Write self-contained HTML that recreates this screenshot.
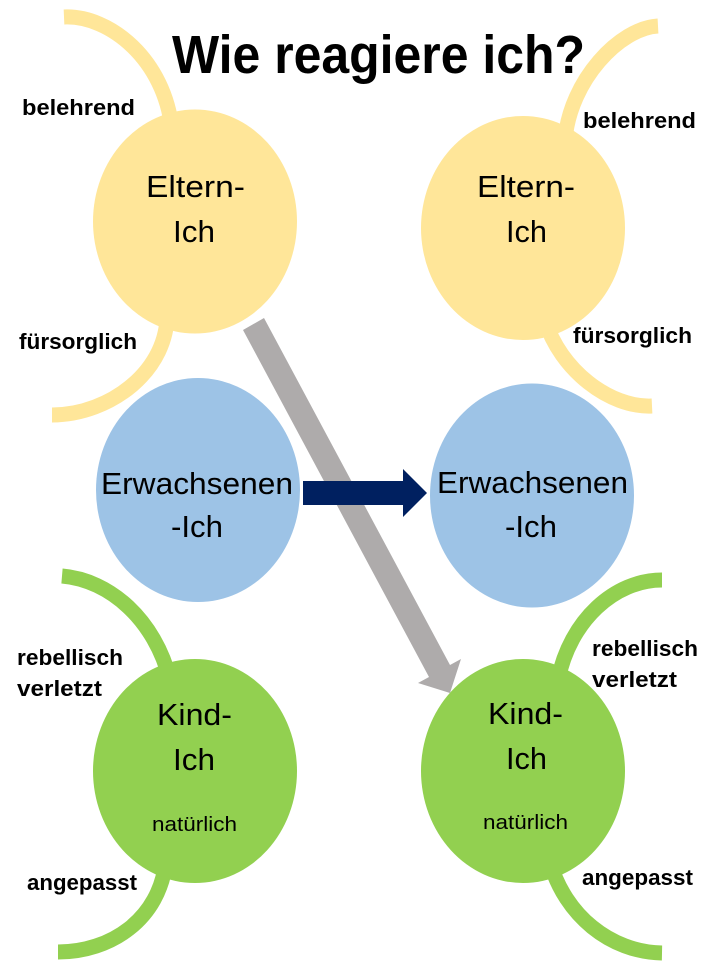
<!DOCTYPE html>
<html>
<head>
<meta charset="utf-8">
<style>
  html, body { margin: 0; padding: 0; background: #ffffff; }
  svg { display: block; }
  .t { font-family: "Liberation Sans", Arial, sans-serif; }
</style>
</head>
<body>
<svg width="723" height="963" viewBox="0 0 723 963" xmlns="http://www.w3.org/2000/svg">
  <rect x="0" y="0" width="723" height="963" fill="#ffffff"/>

  <!-- yellow bands -->
  <g fill="none" stroke="#FFE699" stroke-width="15" stroke-linecap="butt">
    <path d="M 64 17 C 110 15, 165 60, 172 130"/>
    <path d="M 167 310 C 170 370, 110 415, 52 415"/>
    <path d="M 565 140 C 570 80, 620 28, 658 26"/>
    <path d="M 545 320 C 560 370, 610 408, 652 406"/>
  </g>
  <!-- green bands -->
  <g fill="none" stroke="#92D050" stroke-width="15" stroke-linecap="butt">
    <path d="M 170 680 C 155 620, 110 580, 62 576"/>
    <path d="M 166 860 C 160 920, 110 952, 58 952"/>
    <path d="M 558 680 C 570 620, 615 580, 662 580"/>
    <path d="M 550 862 C 565 915, 610 952, 662 953"/>
  </g>

  <!-- gray diagonal arrow -->
  <polygon fill="#AEABAB" points="243,330 264,318 450,665 461,659 450,693 418,683 429,677"/>

  <!-- circles -->
  <ellipse cx="195" cy="221.5" rx="102" ry="112" fill="#FFE699"/>
  <ellipse cx="523" cy="228" rx="102" ry="112" fill="#FFE699"/>
  <ellipse cx="198" cy="490" rx="102" ry="112" fill="#9DC3E6"/>
  <ellipse cx="532" cy="495.5" rx="102" ry="112" fill="#9DC3E6"/>
  <ellipse cx="195" cy="771" rx="102" ry="112" fill="#92D050"/>
  <ellipse cx="523" cy="771" rx="102" ry="112" fill="#92D050"/>

  <!-- navy arrow -->
  <polygon fill="#002060" points="303,481 403,481 403,469 427,493 403,517 403,505 303,505"/>

  <!-- title -->
  <text class="t" x="172" y="73" font-size="54" font-weight="bold" fill="#000" textLength="413" lengthAdjust="spacingAndGlyphs">Wie reagiere ich?</text>

  <!-- circle texts -->
  <g class="t" font-size="31" fill="#000" text-anchor="middle">
    <text x="195.5" y="197" textLength="99" lengthAdjust="spacingAndGlyphs">Eltern-</text>
    <text x="194" y="242" textLength="42" lengthAdjust="spacingAndGlyphs">Ich</text>
    <text x="526" y="197" textLength="98" lengthAdjust="spacingAndGlyphs">Eltern-</text>
    <text x="526.5" y="242" textLength="41" lengthAdjust="spacingAndGlyphs">Ich</text>

    <text x="197" y="494" textLength="192" lengthAdjust="spacingAndGlyphs">Erwachsenen</text>
    <text x="197" y="537" textLength="52" lengthAdjust="spacingAndGlyphs">-Ich</text>
    <text x="532.5" y="493" textLength="191" lengthAdjust="spacingAndGlyphs">Erwachsenen</text>
    <text x="531" y="537" textLength="52" lengthAdjust="spacingAndGlyphs">-Ich</text>

    <text x="194.5" y="725" textLength="75" lengthAdjust="spacingAndGlyphs">Kind-</text>
    <text x="194" y="770" textLength="42" lengthAdjust="spacingAndGlyphs">Ich</text>
    <text x="525.5" y="724" textLength="75" lengthAdjust="spacingAndGlyphs">Kind-</text>
    <text x="526.5" y="769" textLength="41" lengthAdjust="spacingAndGlyphs">Ich</text>
  </g>
  <g class="t" font-size="20" fill="#000" text-anchor="middle">
    <text x="194.5" y="831" textLength="85" lengthAdjust="spacingAndGlyphs">natürlich</text>
    <text x="525.5" y="829" textLength="85" lengthAdjust="spacingAndGlyphs">natürlich</text>
  </g>

  <!-- side labels -->
  <g class="t" font-size="22" font-weight="bold" fill="#000">
    <text x="22" y="115" textLength="113" lengthAdjust="spacingAndGlyphs">belehrend</text>
    <text x="19" y="349" textLength="118" lengthAdjust="spacingAndGlyphs">fürsorglich</text>
    <text x="583" y="128" textLength="113" lengthAdjust="spacingAndGlyphs">belehrend</text>
    <text x="573" y="343" textLength="119" lengthAdjust="spacingAndGlyphs">fürsorglich</text>

    <text x="17" y="665" textLength="106" lengthAdjust="spacingAndGlyphs">rebellisch</text>
    <text x="17" y="696" textLength="85" lengthAdjust="spacingAndGlyphs">verletzt</text>
    <text x="27" y="890" textLength="110" lengthAdjust="spacingAndGlyphs">angepasst</text>

    <text x="592" y="656" textLength="106" lengthAdjust="spacingAndGlyphs">rebellisch</text>
    <text x="592" y="687" textLength="85" lengthAdjust="spacingAndGlyphs">verletzt</text>
    <text x="582" y="885" textLength="111" lengthAdjust="spacingAndGlyphs">angepasst</text>
  </g>
</svg>
</body>
</html>
